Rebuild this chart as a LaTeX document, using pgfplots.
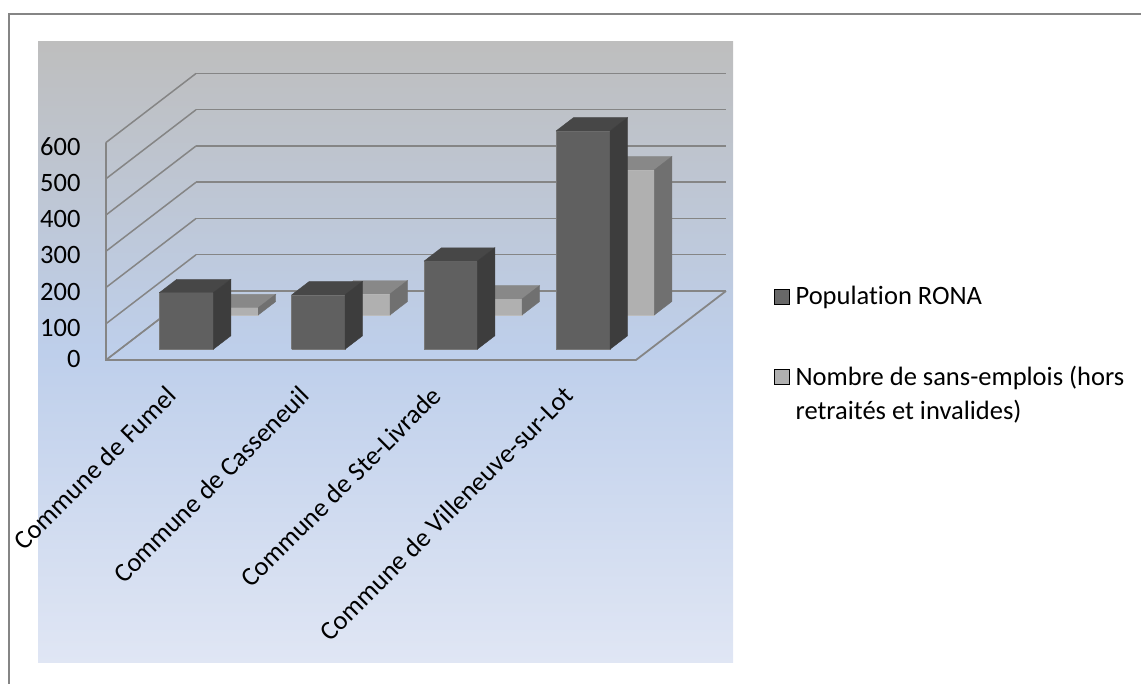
\documentclass[border=0pt]{standalone}
\usepackage{pgfplots}
\pgfplotsset{compat=1.18}
\usepackage{fontspec}
\setmainfont{Carlito}[Ligatures=NoCommon]
\definecolor{gridc}{HTML}{858585}
\definecolor{frontA}{HTML}{606060}
\definecolor{topA}{HTML}{474747}
\definecolor{sideA}{HTML}{3D3D3D}
\definecolor{frontB}{HTML}{B0B0B0}
\definecolor{topB}{HTML}{888888}
\definecolor{sideB}{HTML}{707070}
% one oblique box: #1 left x, #2 right x, #3 front depth, #4 value, #5 front, #6 top, #7 side
\newcommand{\obar}[7]{%
 \pgfmathsetmacro{\dd}{#3+17.5}%
 \edef\temp{\noexpand\addplot3[fill=#5,draw=#5!85!white,line width=0.6pt,forget plot] coordinates {(#1,#3,0) (#2,#3,0) (#2,#3,#4) (#1,#3,#4) (#1,#3,0)};
 \noexpand\addplot3[fill=#6,draw=#6,line width=0.4pt,forget plot] coordinates {(#1,#3,#4) (#2,#3,#4) (#2,\dd,#4) (#1,\dd,#4) (#1,#3,#4)};
 \noexpand\addplot3[fill=#7,draw=#7,line width=0.4pt,forget plot] coordinates {(#2,#3,0) (#2,\dd,0) (#2,\dd,#4) (#2,#3,#4) (#2,#3,0)};}\temp
}
\begin{document}
\begin{tikzpicture}[x=1pt,y=1pt]
\useasboundingbox (0,0) rectangle (1141,684);
\draw[gridc,line width=2pt] (8.5,0) -- (8.5,670) -- (1141,670);
\shade[top color={rgb,255:red,190;green,190;blue,190},bottom color={rgb,255:red,224;green,230;blue,244},middle color={rgb,255:red,190;green,207;blue,235}] (38,642) rectangle (733,21);
\begin{axis}[
  at={(106pt,324pt)},anchor=origin,
  x={(1pt,0pt)},y={(1pt,0.7667pt)},z={(0pt,0.3625pt)},
  xmin=0,xmax=530,ymin=0,ymax=90,zmin=0,zmax=600,
  clip=false,
  axis line style={draw=none},
  major tick length=0pt,
  grid=major,
  major grid style={gridc,line width=1.5pt},
  xmajorgrids=false,ymajorgrids=false,zmajorgrids=true,
  ytick=\empty,
  xtick={53,186,318,450},
  xticklabels={Commune de Fumel,Commune de Casseneuil,Commune de Ste-Livrade,Commune de Villeneuve-sur-Lot},
  x tick label style={rotate=45,anchor=north east,font=\fontsize{26.5}{30}\selectfont,text=black,xshift=-9.6pt,yshift=-18.2pt},
  ztick={0,100,...,600},
  z tick label style={font=\fontsize{26.5}{30}\selectfont,text=black,xshift=-22pt,yshift=4pt},
  /pgf/number format/assume math mode=true,
  legend style={at={(axis cs:563.2,101.8,0)},anchor=north west,draw=none,fill=none,
    font=\fontsize{26.5}{34}\selectfont,row sep=56pt,cells={anchor=base west}},
  legend cell align=left,
  legend image code/.code={\fill[#1] (0pt,-8pt) rectangle (15pt,7pt);\path (19pt,0pt);},
]
\addlegendimage{fill=frontA!95!white}
\addlegendentry{Population RONA}
\addlegendimage{fill=frontB}
\addlegendentry{\parbox[t]{340pt}{\raggedright Nombre de sans-emplois (hors\\retraités et invalides)}}
% floor edges and front vertical edge
\addplot3[gridc,line width=1.8pt,forget plot] coordinates {(0,0,600) (0,0,0) (530,0,0) (530,90,0)};
\addplot3[gridc,line width=1.5pt,forget plot] coordinates {(0,0,0) (0,90,0)};
% series 2 (behind)
\obar{39.5}{93.5}{58.7}{20}{frontB}{topB}{sideB}
\obar{171.5}{225.3}{58.7}{58}{frontB}{topB}{sideB}
\obar{304}{357.3}{58.7}{44}{frontB}{topB}{sideB}
\obar{436}{489.6}{58.7}{400}{frontB}{topB}{sideB}
% series 1 (front)
\obar{39.3}{93.3}{14}{156}{frontA}{topA}{sideA}
\obar{171.7}{225}{14}{150}{frontA}{topA}{sideA}
\obar{304}{357.3}{14}{243}{frontA}{topA}{sideA}
\obar{436}{490}{14}{602}{frontA}{topA}{sideA}
\end{axis}
\end{tikzpicture}
\end{document}
